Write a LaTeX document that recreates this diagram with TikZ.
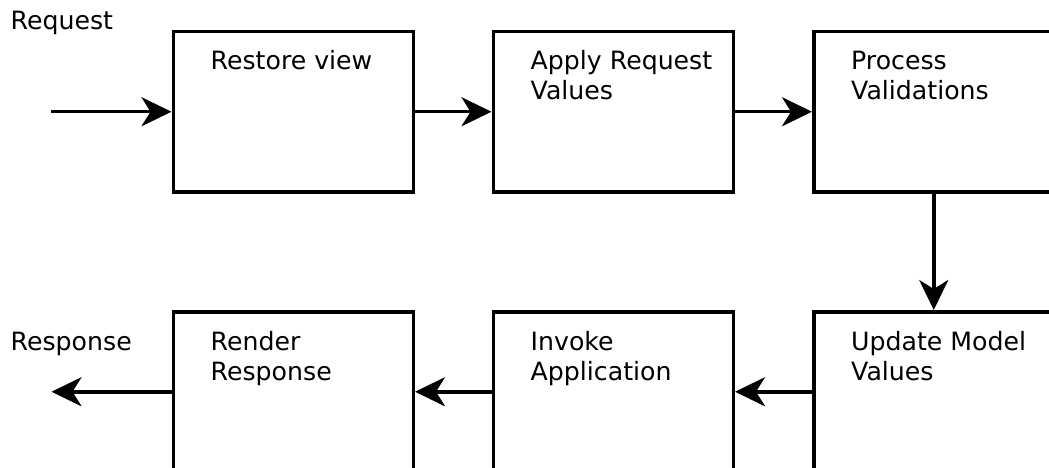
\documentclass[tikz,border=0pt]{standalone}
\usepackage{fontspec}
\setmainfont{DejaVu Sans}
\usetikzlibrary{arrows.meta}
\begin{document}
\begin{tikzpicture}[x=1pt,y=-1pt,
  stage/.style={draw, line width=3.5pt, minimum width=240pt, minimum height=160pt, inner sep=0pt, anchor=north west},
  txt/.style={font=\fontsize{25.2}{30}\selectfont, align=left, inner sep=0pt, anchor=base west},
  flow/.style={line width=3.5pt, -{Stealth[length=30pt,width=29pt,inset=9pt]}}]
\useasboundingbox (0,0) rectangle (1049,468);
\node[stage] (rv) at (171.5,30) {};
\node[stage] (ar) at (491.5,30) {};
\node[stage] (pv) at (812,30) {};
\node[stage] (um) at (812,310) {};
\node[stage] (ia) at (491.5,310) {};
\node[stage] (rr) at (171.5,310) {};
\node[txt] (trv) at ([shift={(39,40)}]rv.north west) {Restore view};
\node[txt] (tar) at ([shift={(39,70)}]ar.north west) {Apply Request\\Values};
\node[txt] (tpv) at ([shift={(39,70)}]pv.north west) {Process\\Validations};
\node[txt] (tum) at ([shift={(39,70)}]um.north west) {Update Model\\Values};
\node[txt] (tia) at ([shift={(39,70)}]ia.north west) {Invoke\\Application};
\node[txt] (trr) at ([shift={(39,70)}]rr.north west) {Render\\Response};
\node[txt] (req) at (10.5,30) {Request};
\node[txt] (resp) at (10.5,350.5) {Response};
\coordinate (in) at (50.5,0 |- rv.west);
\coordinate (out) at (51.5,0 |- rr.west);
\draw[flow] (in) -- (rv.west);
\draw[flow] (rv.east) -- (ar.west);
\draw[flow] (ar.east) -- (pv.west);
\draw[flow] (pv.south) -- (um.north);
\draw[flow] (um.west) -- (ia.east);
\draw[flow] (ia.west) -- (rr.east);
\draw[flow] (rr.west) -- (out);
\end{tikzpicture}
\end{document}
